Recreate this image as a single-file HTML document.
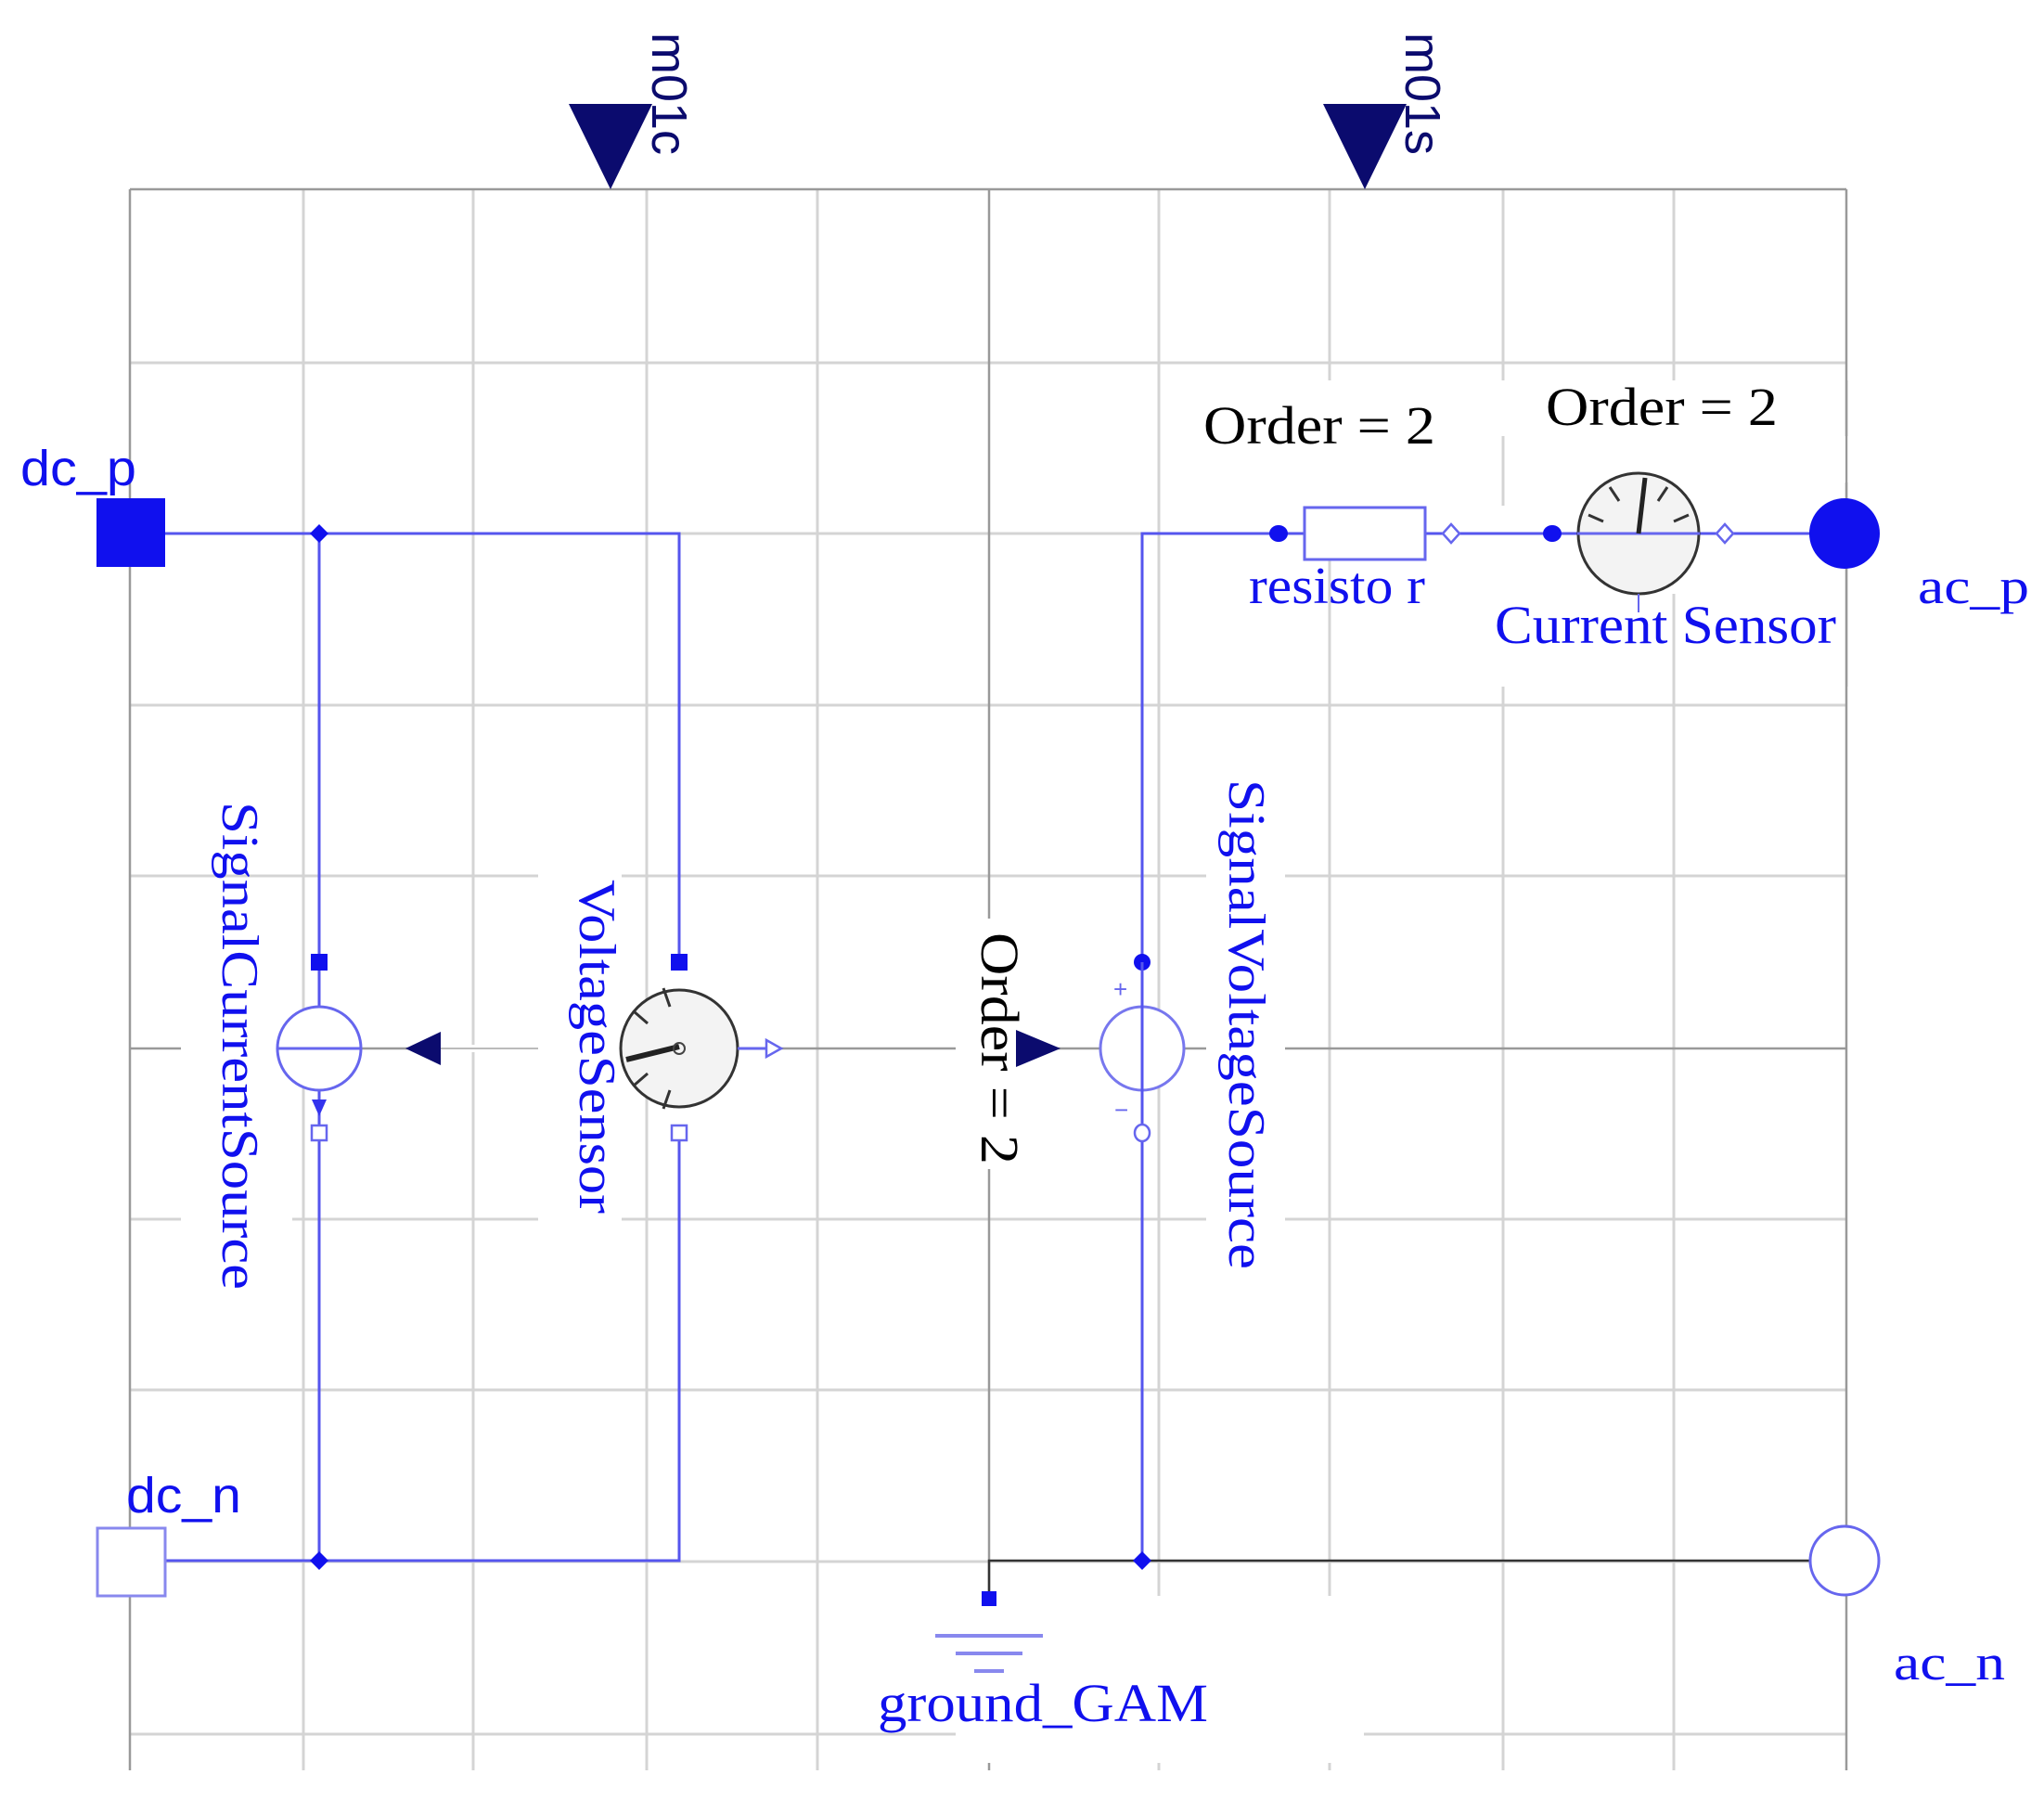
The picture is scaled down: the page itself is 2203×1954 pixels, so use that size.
<!DOCTYPE html>
<html><head><meta charset="utf-8"><style>
html,body{margin:0;padding:0;background:#fff}
svg{display:block}
.s{font-family:"Liberation Serif",serif}
.a{font-family:"Liberation Sans",sans-serif}
</style></head><body>
<svg width="2203" height="1954" viewBox="0 0 2203 1954" xmlns="http://www.w3.org/2000/svg">
<rect width="2203" height="1954" fill="#fff"/>
<g stroke="#d4d4d4" stroke-width="3" fill="none">
<line x1="327" y1="204" x2="327" y2="1908"/><line x1="510" y1="204" x2="510" y2="1908"/>
<line x1="697" y1="204" x2="697" y2="1908"/><line x1="881" y1="204" x2="881" y2="1908"/>
<line x1="1249" y1="204" x2="1249" y2="1908"/><line x1="1433" y1="204" x2="1433" y2="1908"/>
<line x1="1620" y1="204" x2="1620" y2="1908"/><line x1="1804" y1="204" x2="1804" y2="1908"/>
<line x1="140" y1="391" x2="1990" y2="391"/><line x1="140" y1="575" x2="1990" y2="575"/>
<line x1="140" y1="760" x2="1990" y2="760"/><line x1="140" y1="944" x2="1990" y2="944"/>
<line x1="140" y1="1314" x2="1990" y2="1314"/><line x1="140" y1="1498" x2="1990" y2="1498"/>
<line x1="140" y1="1683" x2="1990" y2="1683"/><line x1="140" y1="1869" x2="1990" y2="1869"/>
</g>
<g stroke="#999" stroke-width="2.5" fill="none">
<line x1="140" y1="204" x2="1990" y2="204"/>
<line x1="140" y1="204" x2="140" y2="1908"/>
<line x1="1990" y1="204" x2="1990" y2="1908"/>
<line x1="1066" y1="204" x2="1066" y2="1908"/>
<line x1="140" y1="1130" x2="1990" y2="1130"/>
</g>
<!-- white label patches -->
<rect x="1251" y="410" width="738" height="330" fill="#fff"/>
<rect x="195" y="1045" width="120" height="290" fill="#fff"/>
<rect x="580" y="930" width="90" height="390" fill="#fff"/>
<rect x="1030" y="990" width="95" height="270" fill="#fff"/>
<rect x="1300" y="820" width="85" height="560" fill="#fff"/>
<rect x="1030" y="1720" width="440" height="180" fill="#fff"/>
<g stroke="#d4d4d4" stroke-width="3"><line x1="1433" y1="604" x2="1433" y2="740"/><line x1="1804" y1="640" x2="1804" y2="740"/><line x1="1620" y1="470" x2="1620" y2="545"/></g>
<g stroke="#999" stroke-width="2.5"><line x1="1990" y1="520" x2="1990" y2="740"/><line x1="1990" y1="410" x2="1990" y2="470"/></g>
<!-- blue wires -->
<g stroke="#5555ee" stroke-width="3" fill="none">
<polyline points="178,575 732,575 732,1037"/>
<line x1="344" y1="575" x2="344" y2="1682"/>
<polyline points="732,1221 732,1682 178,1682"/>
<polyline points="1231,1682 1231,575 1406,575"/>
<line x1="1536" y1="575" x2="1990" y2="575"/>
</g>
<g stroke="#333" stroke-width="2.5" fill="none">
<polyline points="1066,1723 1066,1682 1950,1682"/>
</g>
<!-- junction dots -->
<g fill="#1010ee">
<path d="M344 565l10 10-10 10-10-10z"/><path d="M344 1672l10 10-10 10-10-10z"/>
<path d="M1231 1672l10 10-10 10-10-10z"/>
<ellipse cx="1378" cy="575" rx="10" ry="9"/><ellipse cx="1673" cy="575" rx="10" ry="9"/>
<circle cx="1231" cy="1037" r="9"/>
</g>
<!-- dc_p / dc_n -->
<rect x="104" y="537" width="74" height="74" fill="#1010ee"/>
<rect x="105" y="1647" width="73" height="73" fill="#fff" stroke="#8888ee" stroke-width="3"/>
<!-- ac_p / ac_n -->
<circle cx="1988" cy="575" r="38" fill="#1010ee"/>
<circle cx="1988" cy="1682" r="37" fill="#fff" stroke="#6666ee" stroke-width="3"/>
<!-- triangles top -->
<path d="M613 112h90l-45 92z" fill="#0b0b6e"/>
<path d="M1426 112h90l-45 92z" fill="#0b0b6e"/>
<!-- Signal current source -->
<circle cx="344" cy="1130" r="45" fill="#fff" stroke="#6666ee" stroke-width="3"/>
<line x1="299" y1="1130" x2="389" y2="1130" stroke="#6666ee" stroke-width="3"/>
<rect x="335" y="1028" width="18" height="18" fill="#1010ee"/>
<rect x="336" y="1213" width="16" height="16" fill="#fff" stroke="#6666ee" stroke-width="2.5"/>
<path d="M336 1185h16l-8 18z" fill="#3333ee"/>
<path d="M437 1130l38-18v36z" fill="#0b0b6e"/>
<line x1="475" y1="1130" x2="580" y2="1130" stroke="#fff" stroke-width="8"/>
<line x1="475" y1="1130" x2="580" y2="1130" stroke="#bbb" stroke-width="2"/>
<!-- Voltage sensor -->
<rect x="723" y="1028" width="18" height="18" fill="#1010ee"/>
<rect x="724" y="1213" width="16" height="16" fill="#fff" stroke="#6666ee" stroke-width="2.5"/>
<circle cx="732" cy="1130" r="63" fill="#f3f3f3" stroke="#333" stroke-width="3"/>
<g stroke="#333" stroke-width="3"><line x1="715" y1="1065" x2="722" y2="1085"/><line x1="683" y1="1090" x2="698" y2="1103"/><line x1="683" y1="1170" x2="698" y2="1157"/><line x1="715" y1="1195" x2="722" y2="1175"/></g>
<line x1="732" y1="1128" x2="675" y2="1142" stroke="#222" stroke-width="6"/>
<circle cx="732" cy="1130" r="6" fill="none" stroke="#444" stroke-width="2"/>
<line x1="795" y1="1130" x2="830" y2="1130" stroke="#6666ee" stroke-width="3"/>
<path d="M826 1121l16 9-16 9z" fill="#fff" stroke="#6666ee" stroke-width="2.5"/>
<path d="M1095 1110l48 20-48 20z" fill="#0b0b6e"/>
<!-- signal voltage source -->
<circle cx="1231" cy="1130" r="45" fill="#fff" stroke="#7777ee" stroke-width="3"/>
<line x1="1231" y1="1037" x2="1231" y2="1221" stroke="#5555ee" stroke-width="3"/>
<ellipse cx="1231" cy="1221" rx="8" ry="9" fill="#fff" stroke="#6666ee" stroke-width="2.5"/>
<text x="1200" y="1075" class="a" font-size="26" fill="#6666ee">+</text>
<text x="1201" y="1205" class="a" font-size="26" fill="#6666ee">−</text>
<!-- resistor + current sensor -->
<rect x="1406" y="547" width="130" height="56" fill="#fff" stroke="#6666ee" stroke-width="3"/>
<path d="M1564 565l9 10-9 10-9-10z" fill="#fff" stroke="#6666ee" stroke-width="2.5"/>
<circle cx="1766" cy="575" r="65" fill="#f3f3f3" stroke="#333" stroke-width="3"/>
<line x1="1700" y1="575" x2="1832" y2="575" stroke="#6666ee" stroke-width="3"/>
<g stroke="#333" stroke-width="3"><line x1="1735" y1="525" x2="1745" y2="540"/><line x1="1797" y1="525" x2="1787" y2="540"/><line x1="1712" y1="555" x2="1728" y2="562"/><line x1="1820" y1="555" x2="1804" y2="562"/></g>
<line x1="1766" y1="575" x2="1773" y2="515" stroke="#222" stroke-width="5"/>
<line x1="1766" y1="640" x2="1766" y2="660" stroke="#6666ee" stroke-width="2"/>
<path d="M1859 565l9 10-9 10-9-10z" fill="#fff" stroke="#6666ee" stroke-width="2.5"/>
<!-- ground -->
<rect x="1058" y="1715" width="16" height="16" fill="#1010ee"/>
<g stroke="#8888ee" stroke-width="4"><line x1="1008" y1="1763" x2="1124" y2="1763"/><line x1="1030" y1="1782" x2="1102" y2="1782"/><line x1="1050" y1="1801" x2="1082" y2="1801"/></g>
<!-- labels -->
<g fill="#1010ee">
<text x="22" y="523" class="a" font-size="54" textLength="125" lengthAdjust="spacingAndGlyphs">dc_p</text>
<text x="136" y="1630" class="a" font-size="54" textLength="124" lengthAdjust="spacingAndGlyphs">dc_n</text>
<text x="1346" y="650" class="s" font-size="56" textLength="190" lengthAdjust="spacingAndGlyphs">resisto r</text>
<text x="1611" y="693" class="s" font-size="58" textLength="368" lengthAdjust="spacingAndGlyphs">Current Sensor</text>
<text x="2067" y="650" class="s" font-size="54" textLength="120" lengthAdjust="spacingAndGlyphs">ac_p</text>
<text x="2041" y="1810" class="s" font-size="54" textLength="120" lengthAdjust="spacingAndGlyphs">ac_n</text>
<text x="946" y="1855" class="s" font-size="58" textLength="356" lengthAdjust="spacingAndGlyphs">ground_GAM</text>
<text transform="translate(240,864) rotate(90)" class="s" font-size="56" textLength="526" lengthAdjust="spacingAndGlyphs">SignalCurrentSource</text>
<text transform="translate(625,948) rotate(90)" class="s" font-size="56" textLength="360" lengthAdjust="spacingAndGlyphs">VoltageSensor</text>
<text transform="translate(1325,840) rotate(90)" class="s" font-size="56" textLength="528" lengthAdjust="spacingAndGlyphs">SignalVoltageSource</text>
</g>
<g fill="#0b0b6e">
<text transform="translate(703,35) rotate(90)" class="a" font-size="54">m01c</text>
<text transform="translate(1515,35) rotate(90)" class="a" font-size="54">m01s</text>
</g>
<g fill="#000">
<text x="1297" y="478" class="s" font-size="58" textLength="250" lengthAdjust="spacingAndGlyphs">Order = 2</text>
<text x="1666" y="458" class="s" font-size="58" textLength="250" lengthAdjust="spacingAndGlyphs">Order = 2</text>
<text transform="translate(1058,1005) rotate(90)" class="s" font-size="58" textLength="250" lengthAdjust="spacingAndGlyphs">Order = 2</text>
</g>
</svg>
</body></html>
